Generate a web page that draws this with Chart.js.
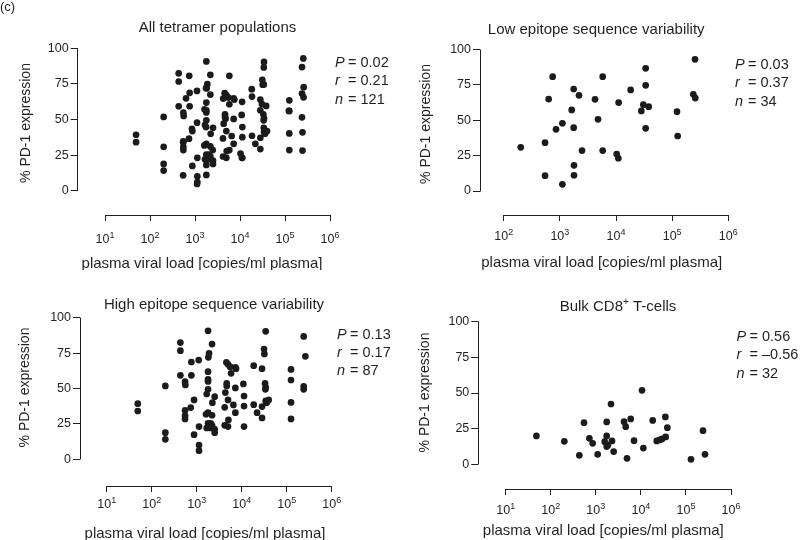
<!DOCTYPE html>
<html><head><meta charset="utf-8">
<script src="https://cdn.jsdelivr.net/npm/chart.js@4.4.1/dist/chart.umd.min.js"></script>
<style>
html,body{margin:0;padding:0;background:#fff;}
#wrap{position:relative;width:800px;height:540px;overflow:hidden;background:#fff;}
.panel{position:absolute;width:400px;height:270px;}
canvas{display:block;}
</style></head><body>
<div id="wrap">
  <div class="panel" style="left:0;top:0"><canvas id="c1" width="400" height="270"></canvas></div>
  <div class="panel" style="left:400px;top:0"><canvas id="c2" width="400" height="270"></canvas></div>
  <div class="panel" style="left:0;top:270px"><canvas id="c3" width="400" height="270"></canvas></div>
  <div class="panel" style="left:400px;top:270px"><canvas id="c4" width="400" height="270"></canvas></div>
</div>
<script>
// ---------------- DATA ----------------
const figureLabel = '(c)';
const xTickValues = [10, 100, 1000, 10000, 100000, 1000000];
const yTickValues = [0, 25, 50, 75, 100];
const xAxisTitle = 'plasma viral load [copies/ml plasma]';
const yAxisTitle = '% PD-1 expression';

const titleAll  = [{t: 'All tetramer populations'}];
const titleLow  = [{t: 'Low epitope sequence variability'}];
const titleHigh = [{t: 'High epitope sequence variability'}];
const titleBulk = [{t: 'Bulk CD8'}, {t: '+', sup: true}, {t: ' T-cells'}];

const statsAll  = {P: '0.02', r: '0.21',  n: '121'};
const statsLow  = {P: '0.03', r: '0.37',  n: '34'};
const statsHigh = {P: '0.13', r: '0.17',  n: '87'};
const statsBulk = {P: '0.56', r: '\u20130.56', n: '32'};

// All tetramer populations (n = 121)
const allVL = [201, 545, 545, 632, 745, 855, 1110, 1110, 1626, 1763, 1763, 1786, 1786, 2193, 2481, 4230, 4785, 5795, 5795, 10280, 11010, 11150, 18230, 28240, 30670, 33770, 33770, 33770, 38180, 121900, 245000, 255300, 238300, 258300,
  49, 49, 201, 201, 201, 434, 434, 434, 551, 560, 551, 551, 551, 736, 761, 761, 873, 873, 1107, 1127, 1127, 1127, 1786, 1880, 1816, 1786, 1786, 1786, 1667, 1786, 1611, 1786, 2047, 1667, 2047, 2193, 2230, 2512, 2512, 2512, 2193, 4335, 4190, 4190, 4560, 4966, 4645, 4645, 4966, 4966, 5058, 5510, 5795, 7230, 7480, 7230, 7230, 10890, 11270, 11270, 11270, 18490, 18490, 21930, 28310, 28310, 28310, 34150, 31340, 31910, 33040, 34150, 33570, 34150, 35940, 39810, 124700, 124700, 124700, 124700, 238600, 260000, 238600, 245000, 1786, 2193, 6530];
const allPD1 = [30.8, 34.1, 10.8, 64.9, 80.7, 43.5, 47.8, 4.7, 57.2, 72.0, 44.7, 18.1, 11.1, 67.5, 28.5, 64.7, 50.6, 80.7, 28.5, 26.1, 23.1, 62.4, 71.3, 56.5, 60.9, 86.6, 74.6, 44.2, 59.5, 56.0, 41.0, 92.9, 68.2, 65.6,
  39.3, 34.1, 51.8, 18.8, 14.1, 82.4, 76.7, 59.3, 54.8, 52.5, 34.6, 30.8, 28.5, 36.5, 68.7, 59.3, 41.9, 17.4, 70.1, 10.1, 6.1, 23.1, 90.8, 74.8, 72.0, 61.9, 56.5, 49.4, 46.1, 32.9, 31.8, 25.4, 25.4, 22.1, 22.1, 81.4, 40.0, 44.2, 21.2, 18.8, 24.0, 47.1, 36.7, 24.0, 68.5, 67.1, 53.6, 51.8, 41.9, 23.1, 27.8, 65.4, 60.7, 64.9, 64.0, 50.4, 32.9, 53.2, 44.7, 37.6, 23.1, 66.1, 38.6, 32.9, 64.0, 37.2, 29.2, 90.4, 77.9, 74.4, 53.6, 50.8, 49.4, 41.2, 40.0, 41.9, 63.5, 56.0, 40.2, 28.5, 86.8, 72.7, 51.5, 28.2, 55.0, 31.1, 38.4];

// Low epitope sequence variability (n = 34)
const lowVL = [201, 545, 545, 632, 745, 855, 1110, 1110, 1626, 1763, 1763, 1786, 1786, 2193, 2481, 4230, 4785, 5795, 5795, 10280, 11010, 11150, 18230, 28240, 30670, 33770, 33770, 33770, 38180, 121900, 125400, 255300, 238300, 258300];
const lowPD1 = [30.8, 34.1, 10.8, 64.9, 80.7, 43.5, 47.8, 4.7, 57.2, 72.0, 44.7, 18.1, 11.1, 67.5, 28.5, 64.7, 50.6, 80.7, 28.5, 26.1, 23.1, 62.4, 71.3, 56.5, 60.9, 86.6, 74.6, 44.2, 59.5, 56.0, 38.8, 92.9, 68.2, 65.6];

// High epitope sequence variability (n = 87)
const highVL = [49, 49, 201, 201, 201, 434, 434, 434, 551, 560, 551, 551, 551, 736, 761, 761, 873, 873, 1107, 1127, 1127, 1127, 1786, 1880, 1816, 1786, 1786, 1786, 1667, 1786, 1611, 1786, 2047, 1667, 2047, 2193, 2230, 2512, 2512, 2512, 2193, 4335, 4190, 4190, 4560, 4966, 4645, 4645, 4966, 4966, 5058, 5510, 5795, 7230, 7480, 7230, 7230, 10890, 11270, 11270, 11270, 18490, 18490, 21930, 28310, 28310, 28310, 34150, 31340, 31910, 33040, 34150, 33570, 34150, 35940, 39810, 124700, 124700, 124700, 124700, 238600, 260000, 238600, 238600, 1786, 2193, 6530];
const highPD1 = [39.3, 34.1, 51.8, 18.8, 14.1, 82.4, 76.7, 59.3, 54.8, 52.5, 34.6, 30.8, 28.5, 36.5, 68.7, 59.3, 41.9, 17.4, 70.1, 10.1, 6.1, 23.1, 90.8, 74.8, 72.0, 61.9, 56.5, 49.4, 46.1, 32.9, 31.8, 25.4, 25.4, 22.1, 22.1, 81.4, 40.0, 44.2, 21.2, 18.8, 24.0, 47.1, 36.7, 24.0, 68.5, 67.1, 53.6, 51.8, 41.9, 23.1, 27.8, 65.4, 60.7, 64.9, 64.0, 50.4, 32.9, 53.2, 44.7, 37.6, 23.1, 66.1, 38.6, 32.9, 64.0, 37.2, 29.2, 90.4, 77.9, 74.4, 53.6, 50.8, 49.4, 41.2, 40.0, 41.9, 63.5, 56.0, 40.2, 28.5, 86.8, 72.7, 51.5, 49.4, 55.0, 31.1, 38.4];

// Bulk CD8+ T-cells (n = 32)
const bulkVL = [48, 200, 431, 547, 719, 852, 1099, 1573, 1743, 1743, 1743, 2172, 2286, 2489, 4230, 4604, 4924, 5943, 7047, 10590, 11350, 18290, 22440, 26130, 29460, 35480, 34910, 38660, 129400, 239300, 265000, 1868];
const bulkPD1 = [19.9, 16.1, 6.3, 29.2, 18.2, 14.7, 7.0, 15.9, 29.7, 19.9, 12.4, 42.3, 16.4, 8.9, 29.9, 26.4, 4.2, 31.8, 16.6, 51.9, 11.4, 30.8, 16.4, 17.1, 17.8, 19.2, 33.2, 25.7, 3.5, 23.6, 7.0, 13.6];

// ---------------- STYLE / LAYOUT ----------------
const FONT = "'Liberation Sans', Arial, Helvetica, sans-serif";
const INK = '#231f20';
const DOT = '#1c1a1b';
const W = 400, H = 270;

const layouts = {
  c1: {yAxisX: 77.7, decStart: 1, pxStart: 105, pxEnd: 330, y0: 190.7, y100: 48.3, xAxisY: 215, tickBase: 243, titleX: 217.5, titleBase: 32, xTitleX: 202, xTitleBase: 267.5, yTitleX: 26, yTitleY: 123, statX: 335, statBase: 67, label: true},
  c2: {yAxisX: 80, decStart: 2, pxStart: 103.7, pxEnd: 328.3, y0: 191, y100: 49.3, xAxisY: 215, tickBase: 240, titleX: 196.2, titleBase: 33.5, xTitleX: 201.7, xTitleBase: 266.7, yTitleX: 26, yTitleY: 124, statX: 335, statBase: 69},
  c3: {yAxisX: 80, decStart: 1, pxStart: 106.7, pxEnd: 331.7, y0: 189.3, y100: 47.7, xAxisY: 216, tickBase: 238, titleX: 214, titleBase: 39, xTitleX: 205, xTitleBase: 267.5, yTitleX: 25, yTitleY: 117.5, statX: 337, statBase: 68.5},
  c4: {yAxisX: 78.3, decStart: 1, pxStart: 105.7, pxEnd: 331, y0: 194.3, y100: 51.7, xAxisY: 219, tickBase: 244, titleX: 218, titleBase: 40.5, xTitleX: 203.3, xTitleBase: 264.5, yTitleX: 25, yTitleY: 122.5, statX: 336.5, statBase: 71}
};

function alignPx(p) { return Math.round(p - 0.5) + 0.5; }

function drawParts(ctx, parts, cx, base, size, supSize, supRise) {
  let total = 0;
  const ws = parts.map(p => {
    ctx.font = (p.sup ? supSize : size) + 'px ' + FONT;
    const w = ctx.measureText(p.t).width; total += w; return w;
  });
  let x = cx - total / 2;
  ctx.textAlign = 'left';
  ctx.textBaseline = 'alphabetic';
  parts.forEach((p, i) => {
    ctx.font = (p.sup ? supSize : size) + 'px ' + FONT;
    ctx.fillText(p.t, x, p.sup ? base - supRise : base);
    x += ws[i];
  });
}

function makeDeco(g, title, stats) {
  return {
    id: 'deco',
    afterDraw(chart) {
      const ctx = chart.ctx, xs = chart.scales.x, ys = chart.scales.y, ca = chart.chartArea;
      ctx.save();
      ctx.strokeStyle = INK; ctx.lineWidth = 1; ctx.lineCap = 'butt';
      // y axis line (0..100)
      const ax = alignPx(ca.left);
      ctx.beginPath();
      ctx.moveTo(ax, alignPx(ys.getPixelForValue(yTickValues[0])));
      ctx.lineTo(ax, alignPx(ys.getPixelForValue(yTickValues[yTickValues.length - 1])));
      ctx.stroke();
      // x axis line (first..last decade)
      const decs = xTickValues.filter(v => v >= Math.pow(10, g.decStart));
      const by = alignPx(ca.bottom);
      ctx.beginPath();
      ctx.moveTo(alignPx(xs.getPixelForValue(decs[0])), by);
      ctx.lineTo(alignPx(xs.getPixelForValue(decs[decs.length - 1])), by);
      ctx.stroke();
      ctx.fillStyle = INK;
      // x tick labels 10^k
      decs.forEach(v => {
        const k = Math.round(Math.log10(v));
        drawParts(ctx, [{t: '10'}, {t: String(k), sup: true}], xs.getPixelForValue(v), g.tickBase, 12.5, 9, 5.5);
      });
      // panel title
      drawParts(ctx, title, g.titleX, g.titleBase, 15, 10, 5.5);
      // x axis title
      drawParts(ctx, [{t: xAxisTitle}], g.xTitleX, g.xTitleBase, 15, 10, 5);
      // y axis title
      ctx.save();
      ctx.translate(g.yTitleX, g.yTitleY);
      ctx.rotate(-Math.PI / 2);
      ctx.font = '14px ' + FONT;
      ctx.textAlign = 'center'; ctx.textBaseline = 'middle';
      ctx.fillText(yAxisTitle, 0, 0);
      ctx.restore();
      // statistics
      const rows = [['P', stats.P], ['r', stats.r], ['n', stats.n]];
      ctx.textAlign = 'left'; ctx.textBaseline = 'alphabetic';
      rows.forEach((row, i) => {
        const yb = g.statBase + i * 18.3;
        ctx.font = 'italic 14.5px ' + FONT;
        ctx.fillText(row[0], g.statX, yb);
        ctx.font = '14.5px ' + FONT;
        ctx.fillText('=', g.statX + 13, yb);
        ctx.fillText(row[1], g.statX + 25.5, yb);
      });
      if (g.label) {
        ctx.font = '13px ' + FONT;
        ctx.fillText(figureLabel, 0, 11);
      }
      ctx.restore();
    }
  };
}

function makeChart(id, vl, pd1, title, stats) {
  const g = layouts[id];
  const ppd = (g.pxEnd - g.pxStart) / (6 - g.decStart);
  const xMin = Math.pow(10, g.decStart - (g.pxStart - g.yAxisX) / ppd);
  const ppu = (g.y0 - g.y100) / 100;
  const yMin = -(g.xAxisY - g.y0) / ppu;
  const pts = vl.map((v, i) => ({x: v, y: pd1[i]}));
  return new Chart(document.getElementById(id), {
    type: 'scatter',
    data: {datasets: [{data: pts, pointRadius: 3.35, pointHoverRadius: 3.35, pointBackgroundColor: DOT, pointBorderWidth: 0, pointBorderColor: DOT, clip: false}]},
    options: {
      responsive: false, animation: false, devicePixelRatio: 1,
      events: [],
      layout: {padding: {left: 0, top: g.y100, right: W - g.pxEnd, bottom: 0}},
      plugins: {legend: {display: false}, tooltip: {enabled: false}, title: {display: false}},
      scales: {
        x: {
          type: 'logarithmic', position: 'bottom', min: xMin, max: Math.pow(10, 6),
          afterBuildTicks: s => { s.ticks = xTickValues.filter(v => v >= Math.pow(10, g.decStart)).map(v => ({value: v})); },
          afterFit: s => { s.height = H - g.xAxisY; },
          ticks: {display: false},
          grid: {display: true, drawOnChartArea: false, drawTicks: true, tickLength: 6, color: INK, lineWidth: 1},
          border: {display: false}
        },
        y: {
          type: 'linear', position: 'left', min: yMin, max: 100,
          afterBuildTicks: s => { s.ticks = yTickValues.map(v => ({value: v})); },
          afterFit: s => { s.width = g.yAxisX; },
          ticks: {display: true, padding: 2, color: INK, font: {family: FONT, size: 12.5}, callback: v => String(v)},
          grid: {display: true, drawOnChartArea: false, drawTicks: true, tickLength: 7, color: INK, lineWidth: 1},
          border: {display: false}
        }
      }
    },
    plugins: [makeDeco(g, title, stats)]
  });
}

makeChart('c1', allVL, allPD1, titleAll, statsAll);
makeChart('c2', lowVL, lowPD1, titleLow, statsLow);
makeChart('c3', highVL, highPD1, titleHigh, statsHigh);
makeChart('c4', bulkVL, bulkPD1, titleBulk, statsBulk);
</script>
</body></html>
